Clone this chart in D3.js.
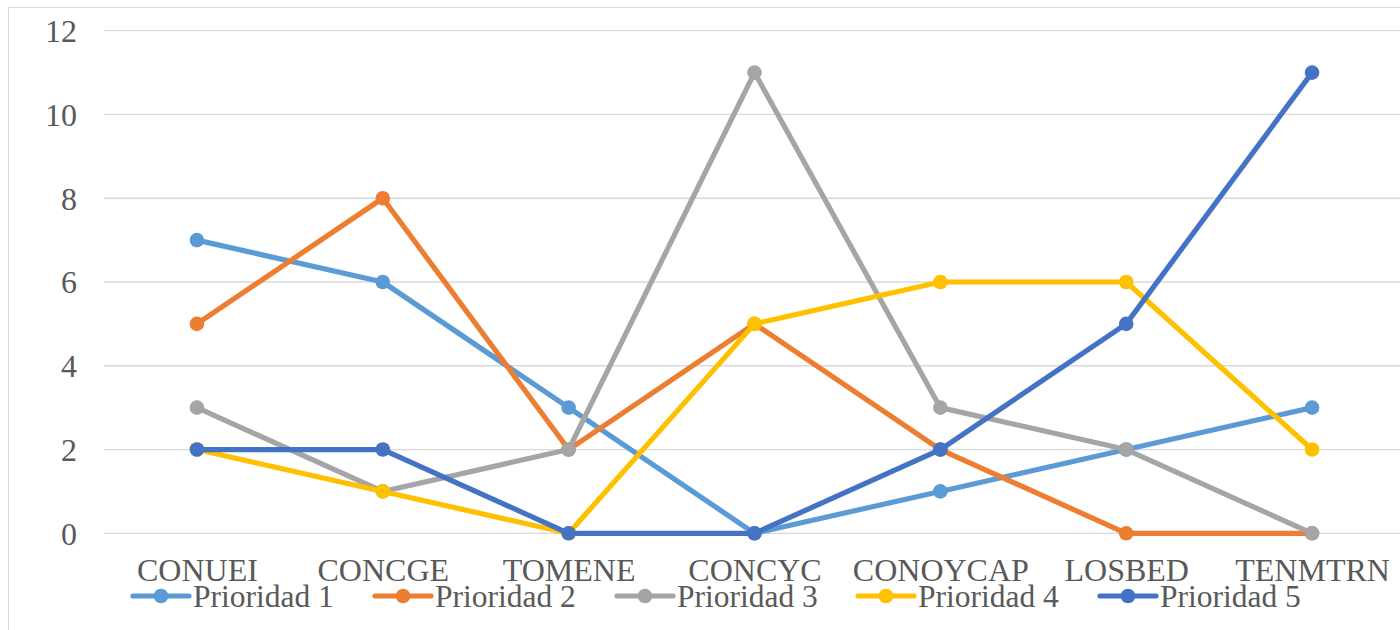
<!DOCTYPE html>
<html><head><meta charset="utf-8">
<script src="https://cdn.jsdelivr.net/npm/d3@7"></script>
<style>body{margin:0;background:#fff}svg{display:block}</style>
</head><body>
<svg id="c" width="1400" height="630"></svg>
<script>
const categories = ["CONUEI","CONCGE","TOMENE","CONCYC","CONOYCAP","LOSBED","TENMTRN"];
const seriesNames = ["Prioridad 1","Prioridad 2","Prioridad 3","Prioridad 4","Prioridad 5"];
const p1 = [7,6,3,0,1,2,3];
const p2 = [5,8,2,5,2,0,0];
const p3 = [3,1,2,11,3,2,0];
const p4 = [2,1,0,5,6,6,2];
const p5 = [2,2,0,0,2,5,11];
const yTicks = [0,2,4,6,8,10,12];
const colors = ["#5B9BD5","#ED7D31","#A5A5A5","#FFC000","#4472C4"];
const legendX = [133,375,617,858,1100];

const series = [p1,p2,p3,p4,p5].map((v,i)=>({name:seriesNames[i],values:v,color:colors[i]}));
const svg = d3.select("#c");
const font = "'Liberation Serif','Times New Roman',serif";

// chart border
svg.append("rect").attr("x",8.5).attr("y",7.5).attr("width",1420).attr("height",640)
  .attr("fill","none").attr("stroke","#d9d9d9").attr("stroke-width",1);

const x = d3.scalePoint().domain(categories).range([104,1405]).padding(0.5);
const y = d3.scaleLinear().domain([0,12]).range([533.3,30.7]);

// y axis labels
const yAxis = d3.axisLeft(y).tickValues(yTicks).tickSize(0).tickPadding(0);
const ga = svg.append("g").attr("transform","translate(104,0)").call(yAxis);
ga.select(".domain").remove();
ga.selectAll("text").attr("x",-27).attr("dy","0.34em").attr("font-family",font).attr("font-size",32).attr("fill","#595959");
// gridlines
svg.append("g").selectAll("line").data(yTicks).join("line")
  .attr("x1",104).attr("x2",1400).attr("y1",d=>y(d)).attr("y2",d=>y(d))
  .attr("stroke","#d9d9d9").attr("stroke-width",1.3);

// x labels
const xAxis = d3.axisBottom(x).tickSize(0).tickPadding(0);
const gx = svg.append("g").attr("transform","translate(0,533)").call(xAxis);
gx.select(".domain").remove();
gx.selectAll("text").attr("y",48).attr("dy",0).attr("font-family",font).attr("font-size",32).attr("fill","#595959");

// lines
const line = d3.line().x((d,i)=>x(categories[i])).y(d=>y(d));
const gs = svg.append("g").selectAll("g").data(series).join("g");
gs.append("path").attr("d",d=>line(d.values)).attr("fill","none")
  .attr("stroke",d=>d.color).attr("stroke-width",5.2).attr("stroke-linejoin","round").attr("stroke-linecap","round");
gs.selectAll("circle").data(d=>d.values.map(v=>({v,c:d.color}))).join("circle")
  .attr("cx",(d,i)=>x(categories[i])).attr("cy",d=>y(d.v)).attr("r",7.3).attr("fill",d=>d.c);

// legend
const lg = svg.append("g").selectAll("g").data(series).join("g")
  .attr("transform",(d,i)=>`translate(${legendX[i]},596)`);
lg.append("line").attr("x1",0).attr("x2",56).attr("y1",0).attr("y2",0)
  .attr("stroke",d=>d.color).attr("stroke-width",5.2).attr("stroke-linecap","round");
lg.append("circle").attr("cx",28).attr("cy",0).attr("r",7.3).attr("fill",d=>d.color);
lg.append("text").attr("x",60).attr("y",11).text(d=>d.name)
  .attr("font-family",font).attr("font-size",31.5).attr("fill","#595959");
</script>
</body></html>
